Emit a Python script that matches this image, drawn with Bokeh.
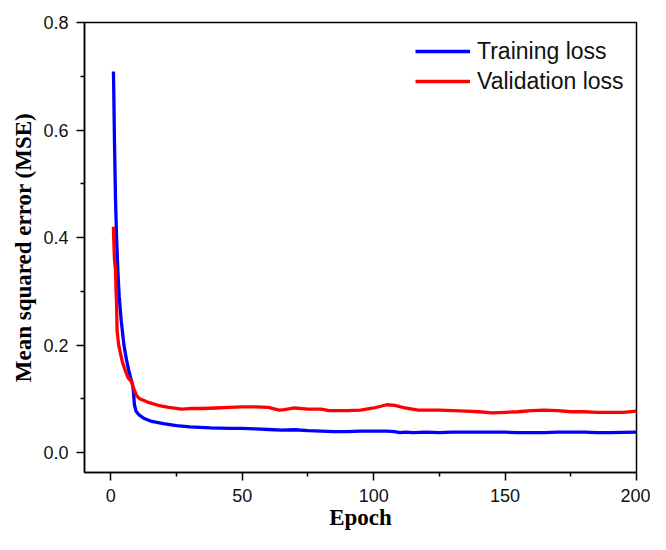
from bokeh.plotting import figure
from bokeh.models import Range1d, Legend, LegendItem, FixedTicker, PrintfTickFormatter
from bokeh.embed import file_html
from bokeh.resources import INLINE

# ---- data ----
train_epoch = [1.0, 1.1, 1.4, 1.8, 2.2, 2.7, 3.2, 4.0, 5.0, 6.0, 6.7, 7.5, 8.2, 8.6, 9.0,
               9.6, 10.8, 12.5, 15.6, 20, 25, 30, 38, 45, 50, 55, 60, 65, 70, 75, 80, 85,
               90, 95, 100, 105, 108, 110, 112, 115, 120, 125, 130, 140, 150, 155, 160,
               165, 170, 175, 180, 185, 190, 200]
train_loss = [0.709, 0.685, 0.58, 0.47, 0.40, 0.337, 0.29, 0.244, 0.20, 0.172, 0.156, 0.14,
              0.128, 0.115, 0.089, 0.077, 0.070, 0.064, 0.058, 0.054, 0.050, 0.048, 0.046,
              0.045, 0.045, 0.044, 0.043, 0.042, 0.0425, 0.041, 0.040, 0.039, 0.039, 0.040,
              0.040, 0.040, 0.039, 0.037, 0.038, 0.037, 0.038, 0.037, 0.038, 0.038, 0.038,
              0.037, 0.037, 0.037, 0.038, 0.038, 0.038, 0.037, 0.037, 0.038]

val_epoch = [1.0, 1.1, 1.4, 1.8, 2.0, 2.2, 2.4, 3.0, 3.7, 4.5, 5.5, 6.5, 8.0, 8.8, 9.8, 11,
             14, 18, 22, 27, 30, 35, 40, 45, 50, 55, 60, 64, 66, 70, 75, 80, 83, 90, 95,
             100, 105, 108, 112, 117, 125, 130, 135, 140, 145, 150, 155, 160, 165, 170,
             175, 180, 185, 190, 195, 200]
val_loss = [0.42, 0.40, 0.36, 0.339, 0.30, 0.278, 0.227, 0.20, 0.184, 0.167, 0.153, 0.14,
            0.131, 0.118, 0.106, 0.100, 0.094, 0.088, 0.084, 0.081, 0.082, 0.082, 0.083,
            0.084, 0.085, 0.085, 0.084, 0.079, 0.080, 0.083, 0.081, 0.081, 0.078, 0.078,
            0.079, 0.083, 0.089, 0.088, 0.083, 0.079, 0.079, 0.078, 0.077, 0.076, 0.074,
            0.075, 0.076, 0.078, 0.079, 0.078, 0.076, 0.076, 0.075, 0.075, 0.075, 0.077]

x_ticks = [0, 50, 100, 150, 200]
x_minor = [25, 75, 125, 175]
y_ticks = [0.0, 0.2, 0.4, 0.6, 0.8]
y_minor = [0.1, 0.3, 0.5, 0.7]
labels = ["Training loss", "Validation loss"]
x_title = "Epoch"
y_title = "Mean squared error (MSE)"

p = figure(width=650, height=534, x_range=Range1d(-10, 200), y_range=Range1d(-0.037, 0.8),
           output_backend="svg", toolbar_location=None,
           min_border_left=84, min_border_right=14, min_border_top=22, min_border_bottom=62)

p.xgrid.visible = False
p.ygrid.visible = False
p.outline_line_color = "black"
p.outline_line_width = 1.5
p.background_fill_color = "white"
p.border_fill_color = "white"

r1 = p.line(train_epoch, train_loss, line_color="#0000ff", line_width=3.3)
r2 = p.line(val_epoch, val_loss, line_color="#ff0000", line_width=3.3)

for ax in (p.xaxis[0], p.yaxis[0]):
    ax.axis_line_color = "black"
    ax.axis_line_width = 1.5
    ax.major_tick_line_width = 1.5
    ax.minor_tick_line_width = 1.5
    ax.major_tick_in = 0
    ax.major_tick_out = 8
    ax.minor_tick_in = 0
    ax.minor_tick_out = 4
    ax.major_label_text_font = "Liberation Sans"
    ax.major_label_text_font_size = "18px"
    ax.major_label_text_color = "#111111"
    ax.axis_label_text_font = "Liberation Serif"
    ax.axis_label_text_font_style = "bold"
    ax.axis_label_text_font_size = "23px"
    ax.axis_label_text_color = "black"

p.xaxis[0].ticker = FixedTicker(ticks=x_ticks, minor_ticks=x_minor)
p.yaxis[0].ticker = FixedTicker(ticks=y_ticks, minor_ticks=y_minor)
p.yaxis[0].formatter = PrintfTickFormatter(format="%.1f")
p.xaxis[0].axis_label = x_title
p.yaxis[0].axis_label = y_title
p.xaxis[0].major_label_standoff = 8
p.xaxis[0].axis_label_standoff = 0
p.yaxis[0].major_label_standoff = 8
p.yaxis[0].axis_label_standoff = 4

legend = Legend(items=[LegendItem(label=labels[0], renderers=[r1]),
                       LegendItem(label=labels[1], renderers=[r2])],
                location=(331, 376), border_line_color=None, background_fill_alpha=0,
                label_text_font="Liberation Sans", label_text_font_size="23px",
                label_text_color="#111111", glyph_width=55, glyph_height=30,
                label_height=30, spacing=0, padding=0, margin=0, label_standoff=7)
p.add_layout(legend)

open("out.html", "w").write(file_html(p, INLINE))
